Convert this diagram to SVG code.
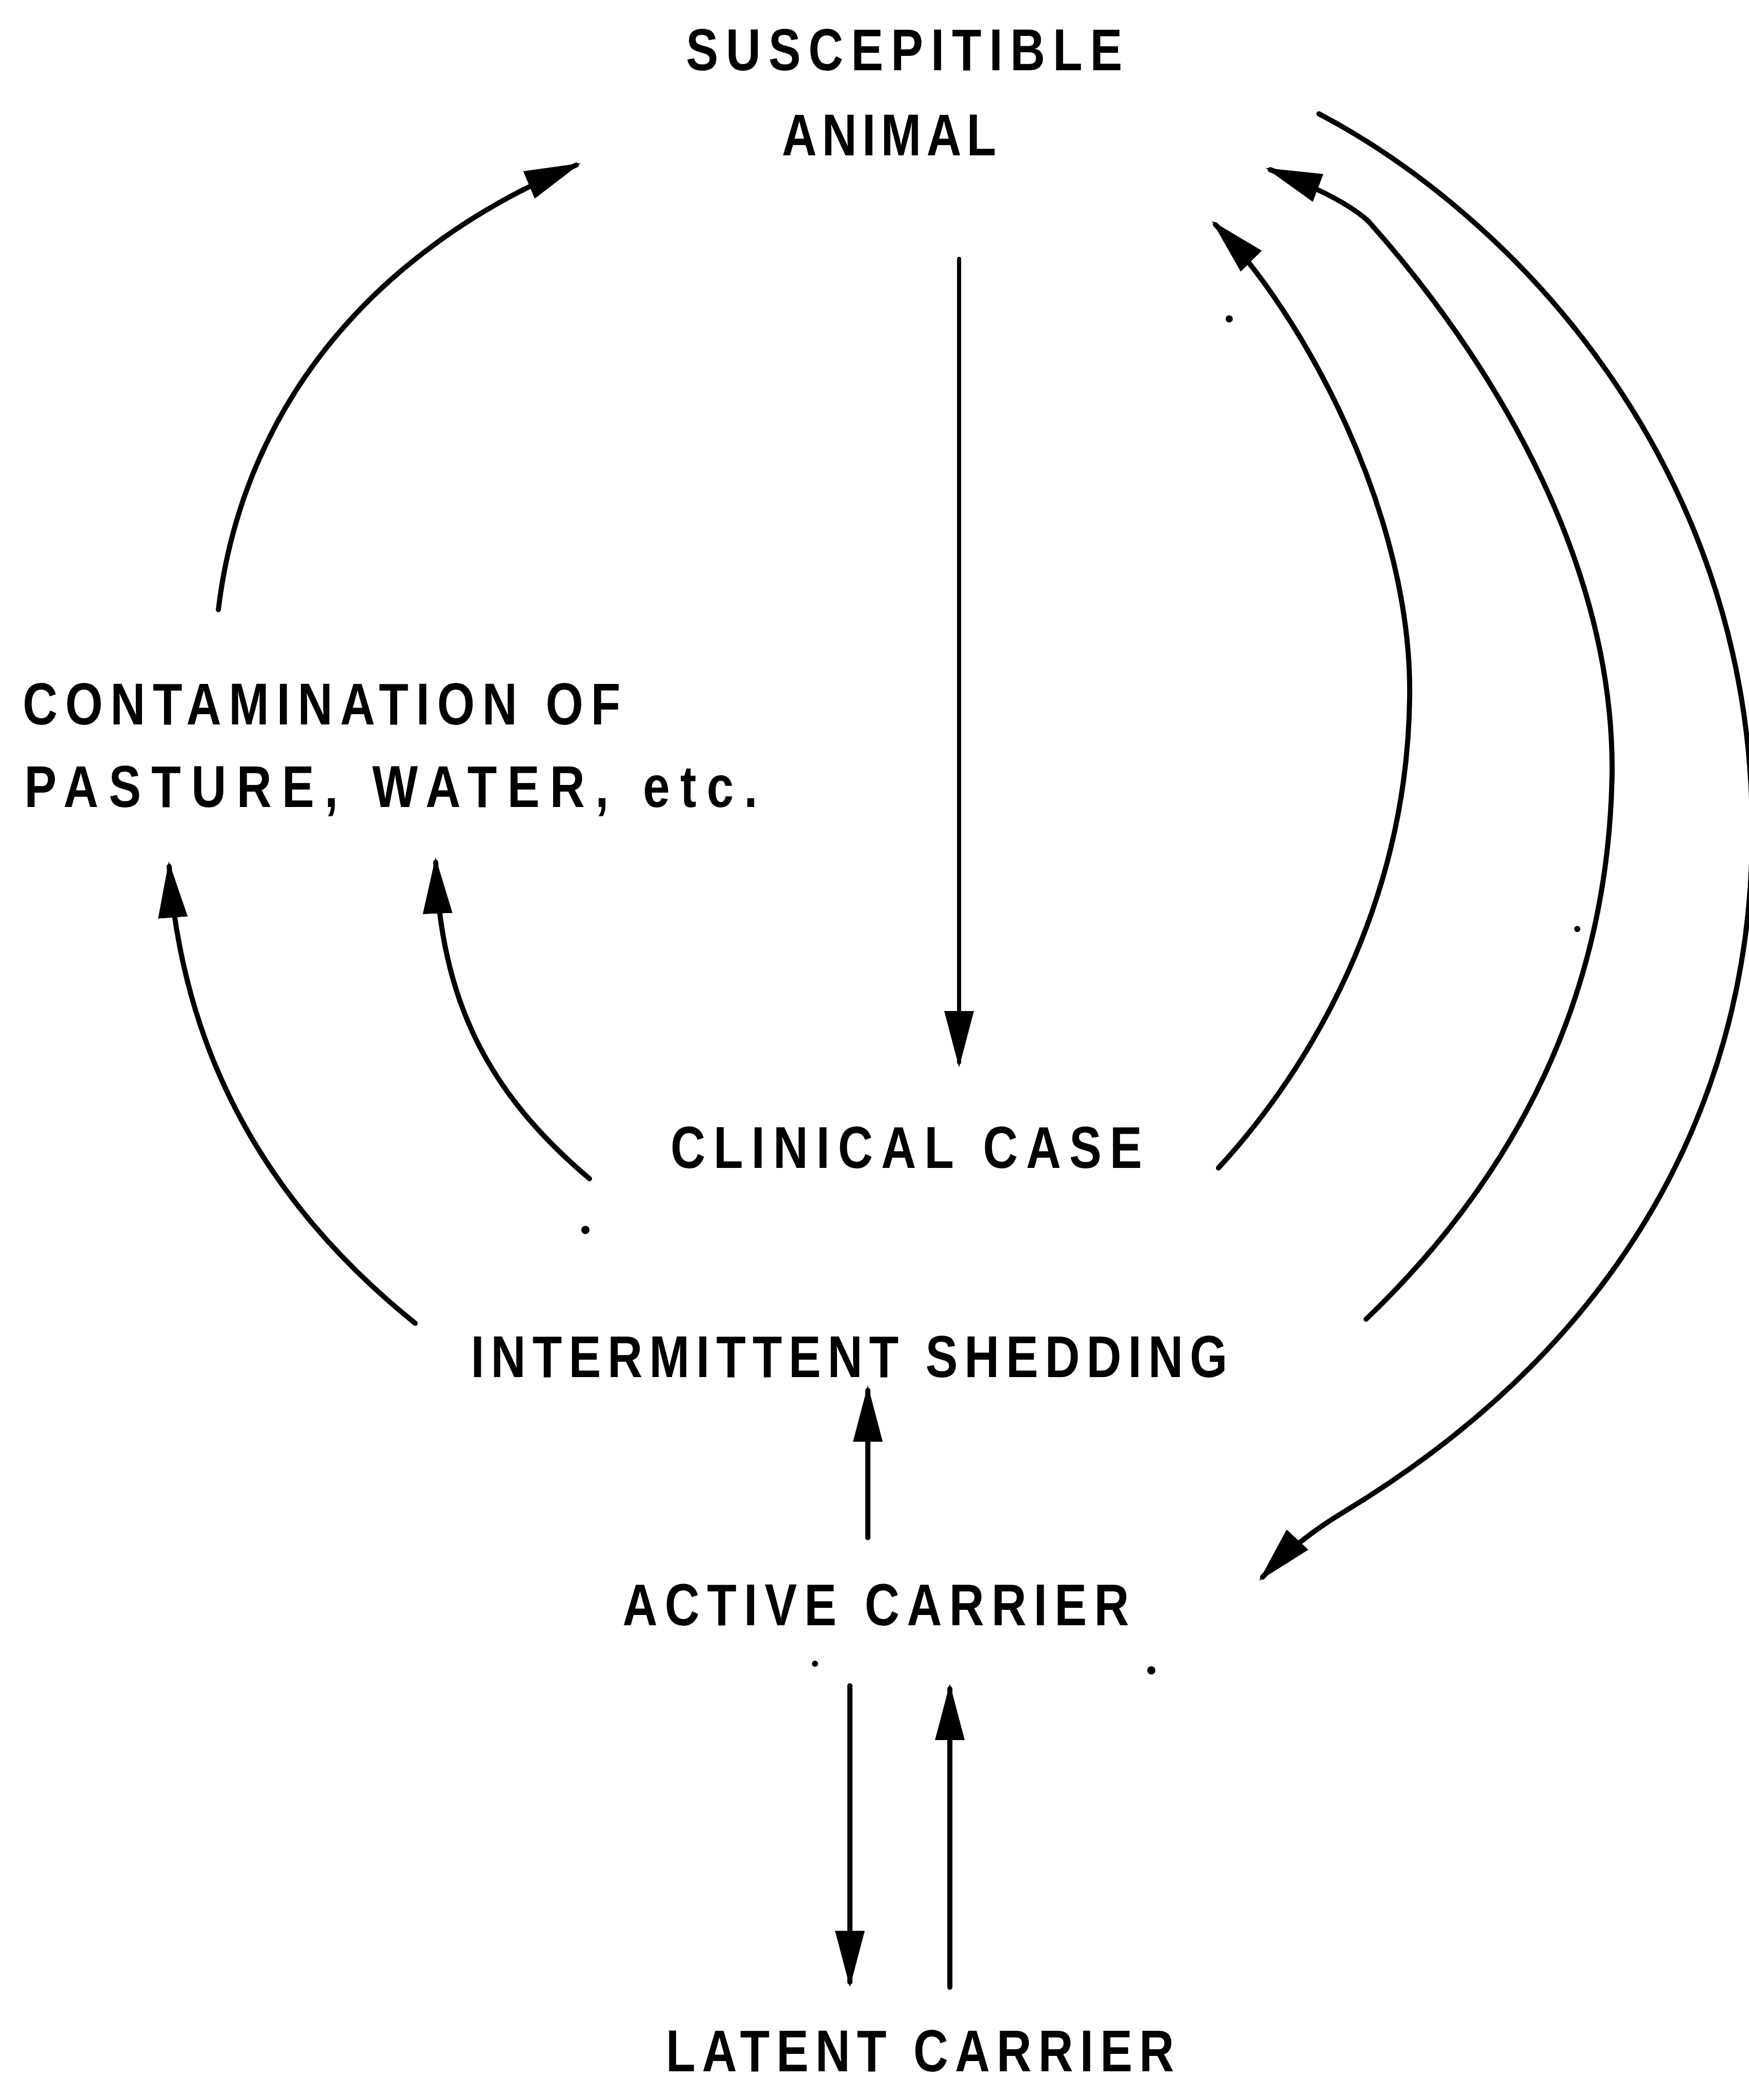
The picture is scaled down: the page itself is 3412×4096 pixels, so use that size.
<svg xmlns="http://www.w3.org/2000/svg" width="3412" height="4096" viewBox="0 0 3412 4096">
  <style>
    .lbl { font-family: "Liberation Sans", "DejaVu Sans", sans-serif; font-weight: bold; font-size: 115px; fill: #000; }
    .edge { fill: none; stroke: #000; stroke-width: 10; stroke-linecap: round; }
    .thin { stroke-width: 8; }
    .speck { fill: #000; }
  </style>
  <defs>
    <marker id="head" markerUnits="userSpaceOnUse" viewBox="0 0 110 62" refX="100" refY="31" markerWidth="110" markerHeight="62" orient="auto">
      <path d="M0,2 L110,31 L0,60 Z" fill="#000"/>
    </marker>
  </defs>
  <rect width="3412" height="4096" fill="#fff"/>

  <!-- connectors -->
  <g id="connectors">
    <!-- susceptible -> clinical case -->
    <path class="edge thin" d="M1871,505 L1871,2072" marker-end="url(#head)"/>
    <!-- contamination -> susceptible -->
    <path class="edge" d="M426,1189 C470,820 700,500 1124,322" marker-end="url(#head)"/>
    <!-- clinical case -> contamination -->
    <path class="edge" d="M1150,2299 C950,2130 860,1950 850,1682" marker-end="url(#head)"/>
    <!-- intermittent shedding -> contamination -->
    <path class="edge" d="M810,2581 C560,2380 360,2100 330,1690" marker-end="url(#head)"/>
    <!-- clinical case -> susceptible -->
    <path class="edge" d="M2377,2278 C2560,2080 2745,1760 2750,1360 C2755,1000 2540,610 2371,438" marker-end="url(#head)"/>
    <!-- intermittent shedding -> susceptible -->
    <path class="edge" d="M2665,2573 C2950,2300 3140,1950 3145,1500 C3145,1080 2900,690 2670,432 Q2620,385 2478,331" marker-end="url(#head)"/>
    <!-- susceptible -> active carrier -->
    <path class="edge" d="M2573,222 C2950,420 3410,900 3418,1600 C3425,2100 3200,2600 2620,2950 C2575,2977 2520,3015 2463,3076" marker-end="url(#head)"/>
    <!-- active carrier -> intermittent shedding -->
    <path class="edge" d="M1693,2999 L1693,2712" marker-end="url(#head)"/>
    <!-- active carrier -> latent carrier -->
    <path class="edge" d="M1658,3288 L1658,3866" marker-end="url(#head)"/>
    <!-- latent carrier -> active carrier -->
    <path class="edge" d="M1853,3876 L1853,3294" marker-end="url(#head)"/>
  </g>

  <!-- nodes: labels set in narrowed glyphs, spread to their printed widths -->
  <g id="susceptible-animal" transform="scale(0.82,1)">
    <text class="lbl" x="1632" y="137" textLength="1038" lengthAdjust="spacing">SUSCEPITIBLE</text>
    <text class="lbl" x="1860" y="303" textLength="510" lengthAdjust="spacing">ANIMAL</text>
  </g>
  <g id="contamination" transform="scale(0.82,1)">
    <text class="lbl" x="54" y="1413" textLength="1422" lengthAdjust="spacing">CONTAMINATION OF</text>
    <text class="lbl" x="58" y="1574" textLength="1744" lengthAdjust="spacing">PASTURE, WATER, etc.</text>
  </g>
  <g id="clinical-case" transform="scale(0.82,1)">
    <text class="lbl" x="1595" y="2278" textLength="1122" lengthAdjust="spacing">CLINICAL CASE</text>
  </g>
  <g id="intermittent-shedding" transform="scale(0.82,1)">
    <text class="lbl" x="1120" y="2686" textLength="1800" lengthAdjust="spacing">INTERMITTENT SHEDDING</text>
  </g>
  <g id="active-carrier" transform="scale(0.82,1)">
    <text class="lbl" x="1481" y="3170" textLength="1205" lengthAdjust="spacing">ACTIVE CARRIER</text>
  </g>
  <g id="latent-carrier" transform="scale(0.82,1)">
    <text class="lbl" x="1584" y="4040" textLength="1209" lengthAdjust="spacing">LATENT CARRIER</text>
  </g>

  <!-- stray specks -->
  <g id="specks">
    <circle class="speck" cx="2398" cy="622" r="7"/>
    <circle class="speck" cx="3077" cy="1812" r="6"/>
    <circle class="speck" cx="1142" cy="2399" r="8"/>
    <circle class="speck" cx="1590" cy="3245" r="6"/>
    <circle class="speck" cx="2246" cy="3258" r="8"/>
  </g>
</svg>
